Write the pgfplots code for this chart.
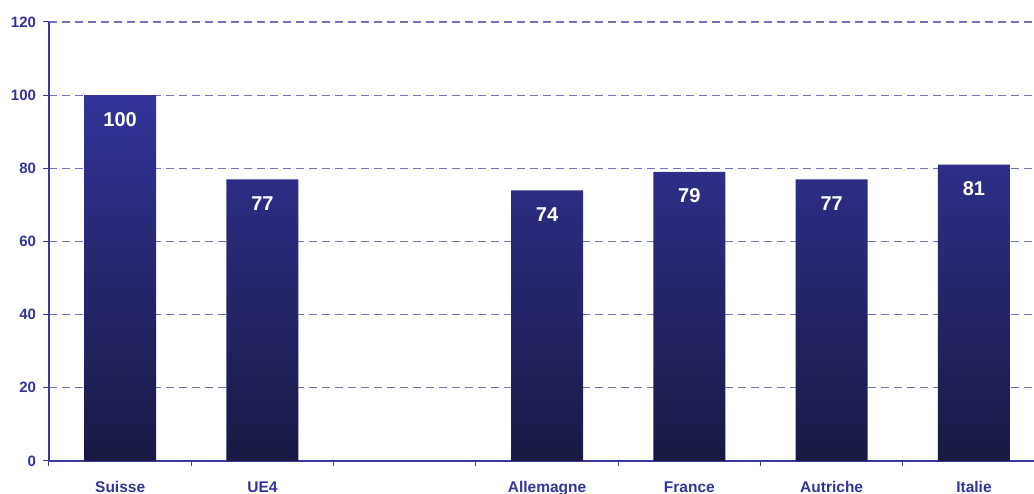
\documentclass[border=0pt]{standalone}
\usepackage{pgfplots}
\pgfplotsset{compat=1.18}
\usepackage{fontspec}
\setmainfont{Liberation Sans}
\definecolor{labcol}{HTML}{333399}
\definecolor{axcol}{HTML}{3A3A9C}
\definecolor{gridcol}{HTML}{7373BA}
\definecolor{bartop}{HTML}{333399}
\definecolor{barmid}{HTML}{292974}
\definecolor{barbot}{HTML}{191944}
\begin{document}
\begin{tikzpicture}
\useasboundingbox (-49pt,-33pt) rectangle (985pt,461pt);
\begin{axis}[
  at={(0,0)}, anchor=south west,
  scale only axis,
  width=985pt, height=439pt,
  xmin=-0.5, xmax=6.422,
  ymin=0, ymax=120,
  ytick={0,20,...,120},
  axis lines*=left,
  axis line style={draw=axcol, line width=1.8pt, -},
  tick align=outside,
  major tick length=5.5pt,
  tick style={draw=axcol, line width=1pt},
  xtick={-0.5,0.5,...,6.5},
  xticklabels={},
  extra x ticks={0,1,2,3,4,5,6},
  extra x tick labels={Suisse,UE4,,Allemagne,France,Autriche,Italie},
  extra x tick style={major tick length=0pt, grid=none},
  ymajorgrids,
  grid style={draw=gridcol, line width=1.3pt, dash pattern=on 8pt off 5pt},
  yticklabel style={font=\fontsize{15}{18}\selectfont\bfseries, text=labcol, xshift=-4pt},
  xticklabel style={font=\fontsize{15.5}{18}\selectfont\bfseries, text=labcol, yshift=-17pt},
  /pgf/number format/assume math mode=true,
  clip=false,
]
\addplot[ybar, bar width=0.506, draw=none,
  top color=bartop, middle color=barmid, bottom color=barbot,
  nodes near coords,
  every node near coord/.append style={anchor=center, yshift=-24pt, text=white, font=\fontsize{20}{24}\selectfont\bfseries},
] coordinates {(0,100) (1,77) (3,74) (4,79) (5,77) (6,81)};
\end{axis}
\end{tikzpicture}
\end{document}
